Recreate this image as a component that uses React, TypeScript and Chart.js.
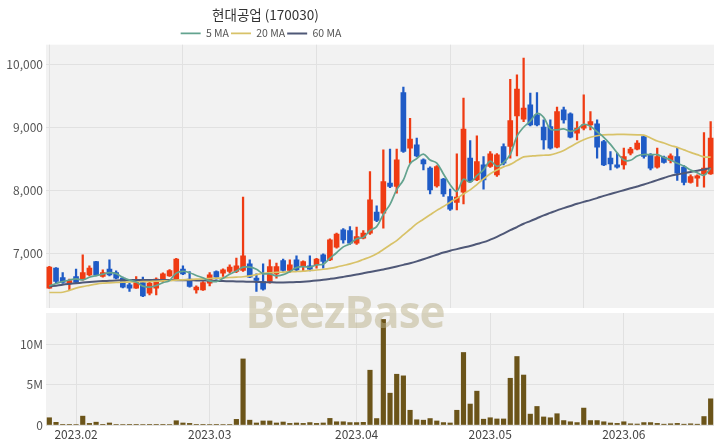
import React, { useEffect, useRef } from "react";
import { Chart, registerables } from "chart.js";
Chart.register(...registerables);

const title = "현대공업 (170030)";

const dates = [
  "2023-01-26","2023-01-27","2023-01-30","2023-01-31",
  "2023-02-01","2023-02-02","2023-02-03","2023-02-06","2023-02-07","2023-02-08","2023-02-09","2023-02-10",
  "2023-02-13","2023-02-14","2023-02-15","2023-02-16","2023-02-17","2023-02-20","2023-02-21","2023-02-22",
  "2023-02-23","2023-02-24","2023-02-27","2023-02-28",
  "2023-03-02","2023-03-03","2023-03-06","2023-03-07","2023-03-08","2023-03-09","2023-03-10",
  "2023-03-13","2023-03-14","2023-03-15","2023-03-16","2023-03-17","2023-03-20","2023-03-21","2023-03-22",
  "2023-03-23","2023-03-24","2023-03-27","2023-03-28","2023-03-29","2023-03-30","2023-03-31",
  "2023-04-03","2023-04-04","2023-04-05","2023-04-06","2023-04-07","2023-04-10","2023-04-11","2023-04-12",
  "2023-04-13","2023-04-14","2023-04-17","2023-04-18","2023-04-19","2023-04-20","2023-04-21","2023-04-24",
  "2023-04-25","2023-04-26","2023-04-27","2023-04-28",
  "2023-05-02","2023-05-03","2023-05-04","2023-05-08","2023-05-09","2023-05-10","2023-05-11","2023-05-12",
  "2023-05-15","2023-05-16","2023-05-17","2023-05-18","2023-05-19","2023-05-22","2023-05-23","2023-05-24",
  "2023-05-25","2023-05-26","2023-05-30","2023-05-31",
  "2023-06-01","2023-06-02","2023-06-05","2023-06-07","2023-06-08","2023-06-09","2023-06-12","2023-06-13",
  "2023-06-14","2023-06-15","2023-06-16","2023-06-19","2023-06-20","2023-06-21"
];

const opens = [
  6456, 6773, 6624, 6535, 6640, 6598, 6667, 6878, 6640, 6757,
  6703, 6614, 6508, 6456, 6545, 6376, 6456, 6587, 6651, 6598,
  6757, 6598, 6429, 6429, 6535, 6719, 6693, 6719, 6719, 6735,
  6841, 6614, 6561, 6561, 6683, 6894, 6735, 6905, 6799, 6810,
  6825, 6984, 6905, 7106, 7381, 7370, 7169, 7249, 7328, 7661,
  7646, 8122, 8069, 9561, 8678, 8730, 8492, 8360, 8079, 8185,
  7910, 7815, 7979, 8519, 8175, 8413, 8386, 8254, 8704, 8704,
  9190, 9138, 9365, 9206, 9011, 9021, 8693, 9286, 9222, 8915,
  8995, 9048, 9063, 8783, 8519, 8413, 8413, 8598, 8662, 8862,
  8571, 8376, 8534, 8481, 8545, 8376, 8132, 8201, 8270, 8270
];
const highs = [
  6800, 6780, 6703, 6600, 6757, 6984, 6810, 6880, 6746, 6905,
  6730, 6630, 6535, 6640, 6630, 6561, 6620, 6700, 6750, 6930,
  6810, 6719, 6492, 6560, 6703, 6730, 6760, 6825, 6931, 7899,
  6905, 6683, 6841, 6905, 6852, 6915, 6905, 6968, 6890, 6968,
  6930, 7000, 7240, 7330, 7400, 7434, 7423, 7370, 8307, 7762,
  8651, 8662, 8662, 9646, 9153, 8836, 8510, 8380, 8400, 8200,
  8026, 8587, 9471, 8799, 8873, 8545, 8624, 8590, 8746, 9772,
  9841, 10106, 9550, 9561, 9127, 9127, 9328, 9328, 9240, 9100,
  9524, 9259, 9127, 8800, 8624, 8598, 8677, 8690, 8799, 8880,
  8590, 8677, 8550, 8587, 8677, 8400, 8254, 8254, 8926, 9100
];
const lows = [
  6450, 6535, 6530, 6429, 6530, 6580, 6650, 6650, 6630, 6650,
  6600, 6460, 6402, 6450, 6320, 6349, 6349, 6545, 6640, 6590,
  6670, 6470, 6376, 6420, 6492, 6598, 6640, 6693, 6700, 6720,
  6620, 6402, 6425, 6535, 6614, 6720, 6703, 6720, 6719, 6730,
  6773, 6773, 6890, 7090, 7169, 7150, 7150, 7238, 7310, 7510,
  7407, 8050, 7963, 8610, 8439, 8540, 8333, 7952, 8060, 7910,
  7690, 7698, 7794, 8130, 8160, 8026, 8370, 8228, 8413, 8519,
  8556, 9100, 9030, 9030, 8662, 8660, 8680, 9074, 8840, 8810,
  8968, 8968, 8519, 8400, 8333, 8360, 8344, 8571, 8650, 8519,
  8333, 8360, 8440, 8445, 8164, 8095, 8120, 8069, 8058, 8260
];
const closes = [
  6788, 6560, 6545, 6577, 6545, 6703, 6773, 6667, 6703, 6667,
  6614, 6471, 6456, 6561, 6333, 6535, 6598, 6683, 6735, 6915,
  6683, 6482, 6471, 6545, 6667, 6630, 6746, 6788, 6810, 6968,
  6630, 6577, 6439, 6799, 6799, 6735, 6825, 6746, 6878, 6757,
  6915, 6878, 7222, 7312, 7222, 7169, 7275, 7328, 7857, 7529,
  8148, 8069, 8492, 8624, 8820, 8556, 8429, 8016, 8386, 7952,
  7709, 7899, 8979, 8148, 8466, 8175, 8587, 8571, 8439, 9116,
  9614, 9312, 9048, 9048, 8810, 8678, 9259, 9127, 8852, 8995,
  9048, 9100, 8693, 8413, 8429, 8376, 8545, 8662, 8757, 8545,
  8360, 8545, 8450, 8556, 8280, 8132, 8228, 8238, 8360, 8836
];

// volume in millions of shares
const volumes = [
  0.9, 0.33, 0.05, 0.05, 0.06, 1.1, 0.2, 0.35, 0.08, 0.25,
  0.07, 0.06, 0.05, 0.05, 0.06, 0.05, 0.05, 0.05, 0.06, 0.53,
  0.25, 0.2, 0.05, 0.05, 0.06, 0.05, 0.06, 0.07, 0.7, 8.2,
  0.6, 0.25, 0.5, 0.5, 0.25, 0.37, 0.2, 0.25, 0.2, 0.3,
  0.2, 0.25, 0.82, 0.4, 0.4, 0.3, 0.3, 0.33, 6.8, 0.8,
  13.1, 3.95, 6.3, 6.1, 1.83, 0.65, 0.6, 0.8, 0.5, 0.3,
  0.25, 1.83, 9.0, 2.6, 4.2, 0.72, 0.9, 0.75, 0.75, 5.8,
  8.5, 6.2, 1.35, 2.3, 1.0, 0.9, 1.4, 0.55, 0.4, 0.3,
  2.1, 0.55, 0.55, 0.4, 0.25, 0.2, 0.4, 0.15, 0.12, 0.3,
  0.3, 0.2, 0.1, 0.15, 0.2, 0.1, 0.15, 0.1, 1.05, 3.25
];

const ma5 = [
  6490, 6530, 6560, 6585, 6603, 6586, 6629, 6653, 6678, 6703,
  6685, 6624, 6582, 6554, 6487, 6471, 6497, 6542, 6577, 6693,
  6723, 6700, 6657, 6619, 6570, 6559, 6612, 6675, 6728, 6788,
  6788, 6755, 6685, 6683, 6649, 6670, 6719, 6781, 6797, 6788,
  6824, 6835, 6930, 7017, 7110, 7161, 7240, 7261, 7370, 7432,
  7627, 7786, 8019, 8172, 8431, 8512, 8584, 8489, 8441, 8268,
  8098, 7992, 8185, 8137, 8240, 8333, 8471, 8389, 8448, 8578,
  8865, 9010, 9106, 9228, 9166, 8979, 8969, 8984, 8945, 8982,
  9056, 9024, 8938, 8850, 8737, 8602, 8491, 8485, 8554, 8577,
  8574, 8574, 8531, 8491, 8438, 8393, 8329, 8287, 8248, 8359
];
const ma20 = [
  6386, 6386, 6390, 6420, 6455, 6480, 6500, 6520, 6534, 6540,
  6545, 6550, 6553, 6556, 6558, 6561, 6565, 6570, 6575, 6582,
  6587, 6592, 6598, 6603, 6608, 6613, 6618, 6624, 6630, 6636,
  6650, 6670, 6690, 6700, 6705, 6710, 6715, 6719, 6725, 6735,
  6743, 6755, 6770, 6790, 6815, 6840, 6870, 6910, 6950, 7000,
  7070, 7140, 7210, 7300, 7390, 7480, 7550, 7620, 7690, 7750,
  7820, 7880, 7950, 8016, 8100, 8190, 8270, 8330, 8380, 8420,
  8480, 8540, 8550, 8560, 8565, 8571, 8600, 8640, 8700, 8760,
  8810, 8850, 8875, 8889, 8892, 8895, 8895, 8893, 8890, 8885,
  8840, 8790, 8760, 8720, 8690, 8650, 8610, 8575, 8540, 8534
];
const ma60 = [
  6481, 6495, 6510, 6522, 6533, 6543, 6552, 6560, 6567, 6573,
  6577, 6580, 6582, 6583, 6584, 6584, 6584, 6583, 6583, 6582,
  6581, 6580, 6578, 6576, 6574, 6571, 6568, 6565, 6562, 6560,
  6557, 6553, 6550, 6548, 6546, 6546, 6548, 6552, 6558, 6566,
  6576, 6588, 6602, 6617, 6634, 6652, 6671, 6692, 6713, 6732,
  6750, 6775, 6800, 6825, 6850, 6880, 6915, 6950, 6985, 7020,
  7050, 7075, 7100, 7125, 7155, 7185, 7225, 7270, 7320, 7375,
  7425, 7478, 7520, 7565, 7610, 7650, 7690, 7725, 7760, 7795,
  7825, 7853, 7885, 7920, 7950, 7980, 8010, 8040, 8069, 8100,
  8135, 8170, 8205, 8238, 8260, 8280, 8300, 8320, 8340, 8360
];

const priceTicks = [7000, 8000, 9000, 10000];
const volumeTicks = [0, 5, 10];

const RED = "#ef3b13";
const BLUE = "#1f5bc6";
const VOL = "#6b5419";
const C5 = "#63a38f";
const C20 = "#d8c268";
const C60 = "#4f5877";
const GRID = "#e1e1e1";
const PLOT_BG = "#f2f2f2";
const FONT = "'Noto Sans CJK KR', 'Noto Sans', sans-serif";

const isMonthStart = (i: number) => i > 0 && dates[i].slice(5, 7) !== dates[i - 1].slice(5, 7);

const bgPlugin = {
  id: "plotBg",
  beforeDraw(chart: any) {
    const { ctx, chartArea: a } = chart;
    ctx.save();
    ctx.fillStyle = PLOT_BG;
    ctx.fillRect(a.left, a.top, a.right - a.left, a.bottom - a.top);
    ctx.restore();
  },
};

const headerPlugin = {
  id: "headerShift",
  beforeInit(chart: any) {
    const lg = chart.legend;
    if (lg) {
      const orig = lg.fit.bind(lg);
      lg.fit = function () {
        orig();
        this.height -= 4;
      };
    }
  },
  afterLayout(chart: any) {
    const t = chart.titleBlock;
    if (t) {
      t.left = 0;
      t.right = 531;
    }
    const lg = chart.legend;
    if (lg) {
      lg.left = 0;
      lg.right = 522;
    }
  },
};

const noEdgePad = (s: any) => {
  s.width = 46;
  s.paddingTop = 0;
  s.paddingBottom = 0;
};

export default function App() {
  const priceRef = useRef<HTMLCanvasElement>(null);
  const volRef = useRef<HTMLCanvasElement>(null);

  useEffect(() => {
    document.body.style.margin = "0";
    const candleColors = closes.map((c, i) => (c >= opens[i] ? RED : BLUE));

    const price = new Chart(priceRef.current as HTMLCanvasElement, {
      type: "bar",
      data: {
        labels: dates,
        datasets: [
          { type: "line", label: "5 MA", data: ma5, borderColor: C5, backgroundColor: C5, borderWidth: 1.7, pointRadius: 0, tension: 0.35, order: 0 } as any,
          { type: "line", label: "20 MA", data: ma20, borderColor: C20, backgroundColor: C20, borderWidth: 1.7, pointRadius: 0, tension: 0.35, order: 0 } as any,
          { type: "line", label: "60 MA", data: ma60, borderColor: C60, backgroundColor: C60, borderWidth: 2, pointRadius: 0, tension: 0.35, order: 0 } as any,
          { type: "bar", label: "wick", data: lows.map((l, i) => [l, highs[i]]), backgroundColor: candleColors, barThickness: 1.6, grouped: false, order: 2 } as any,
          { type: "bar", label: "body", data: opens.map((o, i) => [o, closes[i]]), backgroundColor: candleColors, barThickness: 5, minBarLength: 2, grouped: false, order: 1 } as any,
        ],
      },
      options: {
        animation: false,
        responsive: false,
        maintainAspectRatio: false,
        layout: { padding: { left: 0, right: 6, top: 0, bottom: 2 } },
        plugins: {
          title: {
            display: true,
            text: title,
            color: "#333",
            font: { family: FONT, size: 13.5, weight: "normal" },
            padding: { top: 7, bottom: 3 },
          },
          legend: {
            display: true,
            labels: {
              filter: (item: any) => item.datasetIndex < 3,
              usePointStyle: true,
              pointStyle: "line",
              pointStyleWidth: 20,
              color: "#555",
              font: { family: FONT, size: 10.5 },
              padding: 2,
            },
          },
          tooltip: { enabled: false },
        },
        scales: {
          x: {
            grid: { color: (ctx: any) => (ctx.index % 20 === 0 ? GRID : "transparent"), offset: false, drawTicks: false },
            ticks: { display: false, autoSkip: false },
            border: { display: false },
          },
          y: {
            min: 6140,
            max: 10320,
            afterBuildTicks: (s: any) => {
              s.ticks = priceTicks.map((v) => ({ value: v }));
            },
            afterFit: noEdgePad,
            ticks: {
              color: "#555",
              font: { family: FONT, size: 12 },
              padding: 3,
              callback: (v: any) => Number(v).toLocaleString("en-US"),
            },
            grid: { color: GRID, drawTicks: false },
            border: { display: false },
          },
        },
      } as any,
      plugins: [bgPlugin, headerPlugin],
    });

    const vol = new Chart(volRef.current as HTMLCanvasElement, {
      type: "bar",
      data: {
        labels: dates,
        datasets: [
          { label: "Volume", data: volumes, backgroundColor: VOL, barThickness: 4.5 },
        ],
      },
      options: {
        animation: false,
        responsive: false,
        maintainAspectRatio: false,
        layout: { padding: { left: 0, right: 6, top: 3, bottom: 4.6 } },
        plugins: { legend: { display: false }, title: { display: false }, tooltip: { enabled: false } },
        scales: {
          x: {
            grid: { color: (ctx: any) => (isMonthStart(ctx.index) ? GRID : "transparent"), offset: false, drawTicks: false },
            ticks: {
              autoSkip: false,
              maxRotation: 0,
              minRotation: 0,
              padding: 2,
              color: "#444",
              font: { family: FONT, size: 12 },
              callback: (_v: any, i: number) => (isMonthStart(i) ? dates[i].slice(0, 7).replace("-", ".") : ""),
            },
            border: { display: false },
          },
          y: {
            min: 0,
            max: 13.9,
            afterBuildTicks: (s: any) => {
              s.ticks = volumeTicks.map((v) => ({ value: v }));
            },
            afterFit: noEdgePad,
            ticks: {
              color: "#555",
              font: { family: FONT, size: 12 },
              padding: 3,
              callback: (v: any) => (Number(v) === 0 ? "0" : v + "M"),
            },
            grid: { color: GRID, drawTicks: false },
            border: { display: false },
          },
        },
      } as any,
      plugins: [bgPlugin],
    });

    return () => {
      price.destroy();
      vol.destroy();
    };
  }, []);

  return (
    <div style={{ position: "absolute", left: 0, top: 0, width: 720, height: 448, background: "#fff", overflow: "hidden" }}>
      <canvas ref={priceRef} width={720} height={310} style={{ position: "absolute", left: 0, top: 0, width: 720, height: 310 }} />
      <canvas ref={volRef} width={720} height={138} style={{ position: "absolute", left: 0, top: 310, width: 720, height: 138 }} />
      <div
        style={{
          position: "absolute",
          left: 243,
          top: 286,
          width: 204,
          textAlign: "center",
          fontFamily: "'Open Sans', 'DejaVu Sans', sans-serif",
          fontWeight: 700,
          fontSize: 44,
          lineHeight: "50px",
          letterSpacing: -1,
          color: "rgba(185,175,135,0.5)",
          pointerEvents: "none",
          whiteSpace: "nowrap",
        }}
      >
        BeezBase
      </div>
    </div>
  );
}
